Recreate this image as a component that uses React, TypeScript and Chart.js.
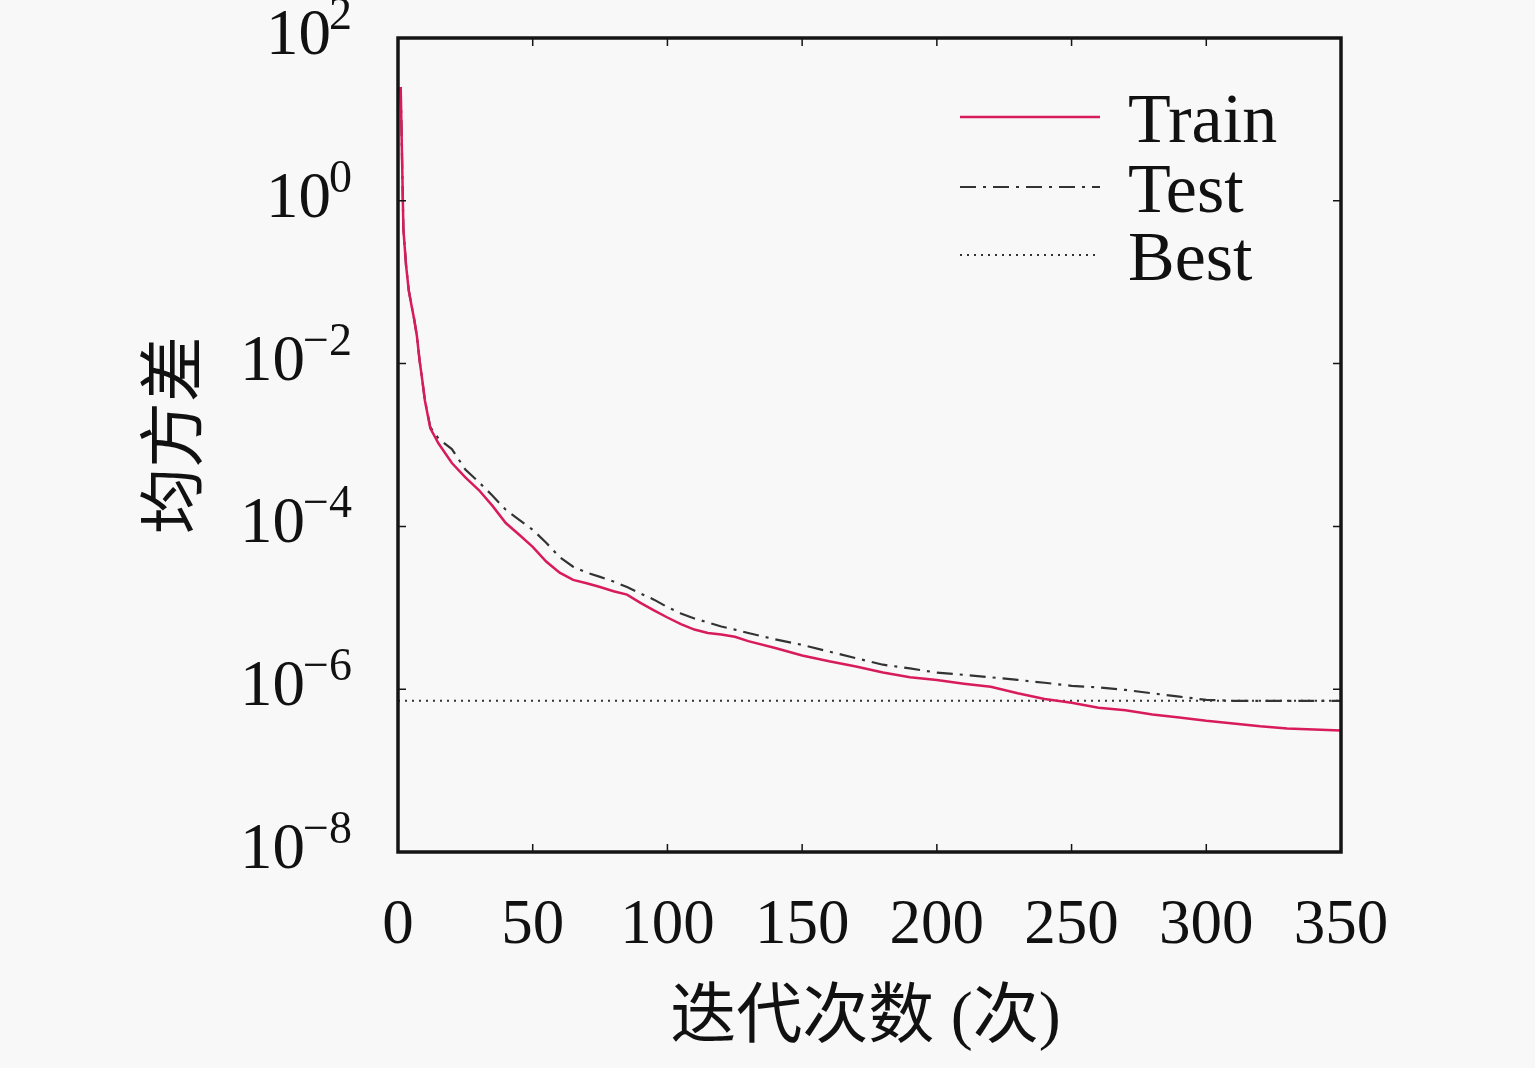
import React, { useEffect, useRef } from 'react';
import { Chart, registerables } from 'chart.js';

Chart.register(...registerables);

const iterations = [
  1, 2, 3, 4, 5, 6, 7, 8, 9, 10, 12, 15, 20, 25, 30, 35, 40, 45, 50, 55, 60, 65, 70, 75, 80, 85, 90, 95,
  100, 105, 110, 115, 120, 125, 130, 140, 150, 160, 170, 180, 190, 200, 210, 220, 230, 240, 250, 260,
  270, 280, 290, 300, 310, 320, 330, 340, 350,
];

const trainMse = [
  25, 4.5e-1, 1.6e-1, 7.9e-2, 5.2e-2, 3.5e-2, 2.2e-2, 1.1e-2, 6.3e-3, 3.5e-3, 1.6e-3, 1.05e-3, 6.0e-4,
  4.0e-4, 2.8e-4, 1.8e-4, 1.1e-4, 7.9e-5, 5.6e-5, 3.7e-5, 2.7e-5, 2.2e-5, 2.0e-5, 1.8e-5, 1.6e-5,
  1.45e-5, 1.15e-5, 9.3e-6, 7.6e-6, 6.3e-6, 5.4e-6, 4.9e-6, 4.7e-6, 4.4e-6, 3.9e-6, 3.2e-6, 2.6e-6,
  2.2e-6, 1.9e-6, 1.6e-6, 1.4e-6, 1.3e-6, 1.17e-6, 1.07e-6, 8.9e-7, 7.6e-7, 6.8e-7, 5.9e-7, 5.5e-7,
  4.9e-7, 4.5e-7, 4.1e-7, 3.8e-7, 3.5e-7, 3.3e-7, 3.2e-7, 3.1e-7,
];

const testMse = [
  25, 4.5e-1, 1.6e-1, 7.9e-2, 5.2e-2, 3.5e-2, 2.2e-2, 1.1e-2, 6.3e-3, 3.5e-3, 1.66e-3, 1.2e-3, 8.9e-4,
  5.0e-4, 3.5e-4, 2.4e-4, 1.6e-4, 1.2e-4, 9.1e-5, 6.3e-5, 4.2e-5, 3.2e-5, 2.7e-5, 2.4e-5, 2.1e-5,
  1.8e-5, 1.5e-5, 1.26e-5, 1.02e-5, 8.5e-6, 7.4e-6, 6.6e-6, 5.9e-6, 5.4e-6, 4.9e-6, 4.1e-6, 3.5e-6,
  2.9e-6, 2.4e-6, 2.0e-6, 1.8e-6, 1.6e-6, 1.5e-6, 1.4e-6, 1.3e-6, 1.2e-6, 1.1e-6, 1.05e-6, 9.8e-7,
  8.9e-7, 8.1e-7, 7.4e-7, 7.2e-7, 7.2e-7, 7.2e-7, 7.2e-7, 7.2e-7,
];

const bestMse = 7.2e-7;

const xTicks = [0, 50, 100, 150, 200, 250, 300, 350];
const yExponents = [2, 0, -2, -4, -6, -8];
const legendLabels = ['Train', 'Test', 'Best'];

const xTitle = '迭代次数 (次)';
const yTitle = '均方差';

const SERIF = '"Liberation Serif", "Times New Roman", serif';
const CJK = '"Liberation Serif", "Noto Sans CJK SC", sans-serif';
const TRAIN_COLOR = '#d81b5c';
const DARK = '#333333';
const TEST_DASH = [16, 7, 3, 7];
const BEST_DASH = [2, 5];

const framePlugin = {
  id: 'frameAndText',
  afterDraw(chart: Chart) {
    const { ctx, chartArea } = chart;
    const { left, right, top, bottom } = chartArea;
    const xs = chart.scales.x;
    const ys = chart.scales.y;
    ctx.save();

    // frame
    ctx.strokeStyle = '#151515';
    ctx.lineWidth = 3.5;
    ctx.setLineDash([]);
    ctx.strokeRect(left, top, right - left, bottom - top);

    // inner ticks on all sides
    ctx.lineWidth = 1.5;
    const tl = 8;
    xTicks.forEach((v) => {
      const px = xs.getPixelForValue(v);
      ctx.beginPath();
      ctx.moveTo(px, bottom);
      ctx.lineTo(px, bottom - tl);
      ctx.moveTo(px, top);
      ctx.lineTo(px, top + tl);
      ctx.stroke();
    });
    yExponents.forEach((e) => {
      const py = ys.getPixelForValue(Math.pow(10, e));
      ctx.beginPath();
      ctx.moveTo(left, py);
      ctx.lineTo(left + tl, py);
      ctx.moveTo(right, py);
      ctx.lineTo(right - tl, py);
      ctx.stroke();
    });

    ctx.fillStyle = '#111';

    // x tick labels
    ctx.font = `63px ${SERIF}`;
    ctx.textAlign = 'center';
    ctx.textBaseline = 'alphabetic';
    xTicks.forEach((v) => {
      ctx.fillText(String(v), xs.getPixelForValue(v), bottom + 91);
    });

    // y tick labels 10^k
    const labelRight = left - 46;
    yExponents.forEach((e) => {
      const base = ys.getPixelForValue(Math.pow(10, e)) + 16;
      const expStr = e < 0 ? '\u2212' + Math.abs(e) : String(e);
      ctx.textAlign = 'right';
      ctx.font = `46px ${SERIF}`;
      ctx.fillText(expStr, labelRight, base - 25);
      const w = ctx.measureText(expStr).width;
      ctx.font = `65px ${SERIF}`;
      ctx.fillText('10', labelRight - w + 2, base);
    });

    // axis titles
    ctx.textAlign = 'center';
    ctx.textBaseline = 'middle';
    ctx.font = `66px ${CJK}`;
    ctx.fillText(xTitle, (left + right) / 2 - 4, bottom + 168);
    ctx.save();
    ctx.translate(left - 219, (top + bottom) / 2 - 10);
    ctx.rotate(-Math.PI / 2);
    ctx.font = `66px ${CJK}`;
    ctx.fillText(yTitle, 0, 0);
    ctx.restore();

    // legend
    const lx0 = left + 562;
    const lx1 = left + 702;
    const rows = [117, 187, 255];
    const styles = [
      { color: TRAIN_COLOR, dash: [] as number[], width: 2.5 },
      { color: DARK, dash: TEST_DASH, width: 2.2 },
      { color: DARK, dash: BEST_DASH, width: 2 },
    ];
    legendLabels.forEach((label, i) => {
      const y = rows[i];
      ctx.strokeStyle = styles[i].color;
      ctx.lineWidth = styles[i].width;
      ctx.setLineDash(styles[i].dash);
      ctx.beginPath();
      ctx.moveTo(lx0, y);
      ctx.lineTo(lx1, y);
      ctx.stroke();
      ctx.setLineDash([]);
      ctx.font = `70px ${SERIF}`;
      ctx.textAlign = 'left';
      ctx.textBaseline = 'alphabetic';
      ctx.fillStyle = '#111';
      ctx.fillText(label, left + 730, y + 25);
    });

    ctx.restore();
  },
};

const App: React.FC = () => {
  const canvasRef = useRef<HTMLCanvasElement>(null);

  useEffect(() => {
    document.body.style.margin = '0';
    document.body.style.background = '#f8f8f8';
    let chart: Chart | null = null;
    const ctx = canvasRef.current?.getContext('2d');
    if (ctx) {
      chart = new Chart(ctx, {
        type: 'line',
        data: {
          datasets: [
            {
              label: 'Train',
              data: iterations.map((x, i) => ({ x, y: trainMse[i] })),
              borderColor: TRAIN_COLOR,
              borderWidth: 2.5,
              pointRadius: 0,
              tension: 0,
            },
            {
              label: 'Test',
              data: iterations.map((x, i) => ({ x, y: testMse[i] })),
              borderColor: DARK,
              borderWidth: 2.2,
              borderDash: TEST_DASH,
              pointRadius: 0,
              tension: 0,
            },
            {
              label: 'Best',
              data: [
                { x: xTicks[0], y: bestMse },
                { x: xTicks[xTicks.length - 1], y: bestMse },
              ],
              borderColor: DARK,
              borderWidth: 2,
              borderDash: BEST_DASH,
              pointRadius: 0,
            },
          ],
        },
        options: {
          responsive: true,
          maintainAspectRatio: false,
          animation: false,
          layout: { padding: { left: 398, top: 38, right: 194, bottom: 216 } },
          plugins: { legend: { display: false }, tooltip: { enabled: false } },
          scales: {
            x: { type: 'linear', min: 0, max: 350, display: false },
            y: { type: 'logarithmic', min: 1e-8, max: 1e2, display: false },
          },
        },
        plugins: [framePlugin],
      });
    }
    return () => {
      if (chart) chart.destroy();
    };
  }, []);

  return (
    <div
      style={{
        position: 'absolute',
        left: 0,
        top: 0,
        width: 1535,
        height: 1068,
        background: '#f8f8f8',
        overflow: 'hidden',
      }}
    >
      <canvas ref={canvasRef}></canvas>
    </div>
  );
};

export default App;
